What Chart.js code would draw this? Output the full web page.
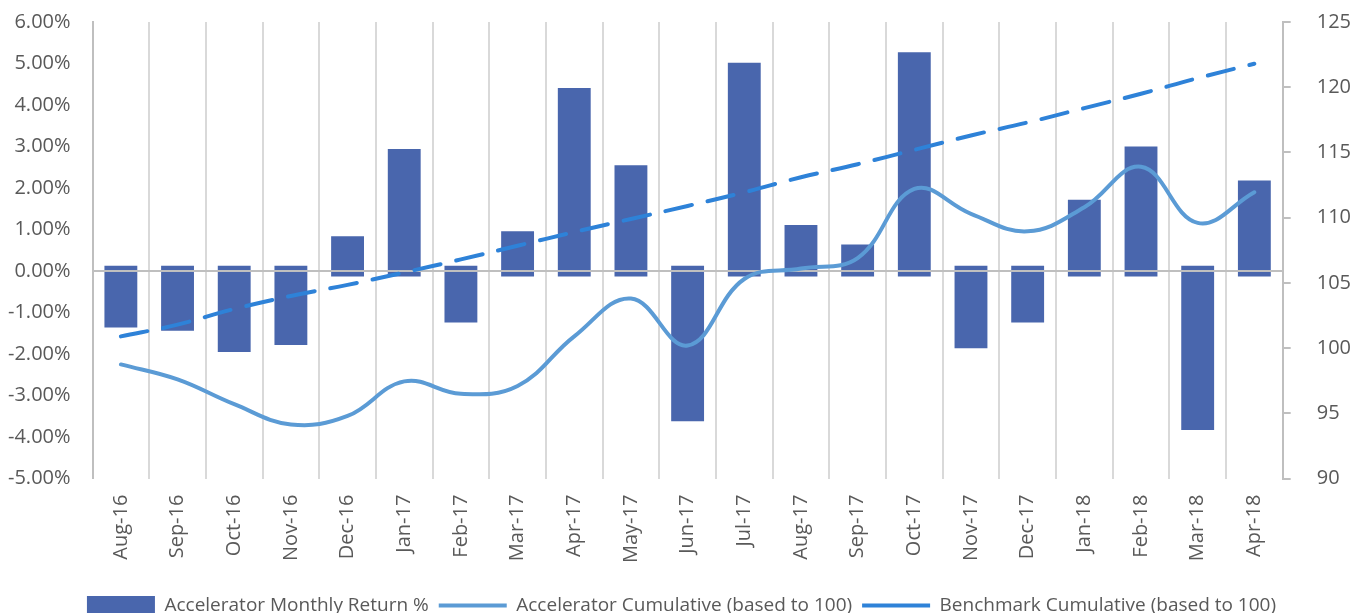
<!DOCTYPE html>
<html>
<head>
<meta charset="utf-8">
<script src="https://cdn.jsdelivr.net/npm/chart.js@4.4.1/dist/chart.umd.min.js"></script>
<style>
  html, body { margin: 0; padding: 0; background: #ffffff; overflow: hidden; }
  #wrap { width: 1354px; height: 625px; position: relative; }
</style>
</head>
<body>
<div id="wrap"><canvas id="c"></canvas></div>
<script>
const months = ['Aug-16','Sep-16','Oct-16','Nov-16','Dec-16','Jan-17','Feb-17','Mar-17','Apr-17','May-17','Jun-17','Jul-17','Aug-17','Sep-17','Oct-17','Nov-17','Dec-17','Jan-18','Feb-18','Mar-18','Apr-18'];
const monthlyReturn = [-1.36,-1.44,-1.95,-1.78,0.84,2.94,-1.24,0.96,4.41,2.55,-3.62,5.02,1.11,0.64,5.27,-1.86,-1.24,1.72,3.00,-3.83,2.18];
const acceleratorCumulative = [98.75,97.6,95.7,94.15,94.8,97.45,96.5,97.1,100.9,103.8,100.2,105.3,106.1,106.9,112.2,110.3,108.95,110.8,113.9,109.6,111.95];
const benchmarkCumulative = [100.9,101.8,103.0,104.0,104.85,105.8,106.8,107.85,108.9,109.9,110.9,111.95,113.1,114.1,115.2,116.3,117.3,118.4,119.5,120.7,121.8];
const leftTicks = { min: -5, max: 6, step: 1 };
const rightTicks = { min: 90, max: 125, step: 5 };

const BAR_OVERHANG = 0.13;
const barData = monthlyReturn.map(v => v >= 0 ? [-BAR_OVERHANG, v] : [BAR_OVERHANG, v]);

const FONT = "'Open Sans', 'Noto Sans', sans-serif";
const TXT = '#595959';
const TOP_PAD = 22;

const zeroLine = {
  id: 'zeroLine',
  afterDatasetDraw(chart, args) {
    if (args.index !== 0) return;
    const ctx = chart.ctx, a = chart.chartArea;
    const y = chart.scales.y.getPixelForValue(0);
    ctx.save();
    ctx.strokeStyle = '#bfbfbf';
    ctx.lineWidth = 2;
    ctx.beginPath();
    ctx.moveTo(a.left, y);
    ctx.lineTo(a.right, y);
    ctx.stroke();
    ctx.restore();
  }
};

new Chart(document.getElementById('c'), {
  type: 'bar',
  data: {
    labels: months,
    datasets: [
      {
        type: 'bar',
        label: 'Accelerator Monthly Return %',
        data: barData,
        backgroundColor: '#4966AD',
        borderWidth: 0,
        yAxisID: 'y',
        order: 3,
        pointStyle: 'rect',
        categoryPercentage: 1,
        barPercentage: 0.58
      },
      {
        type: 'line',
        label: 'Accelerator Cumulative (based to 100)',
        data: acceleratorCumulative,
        borderColor: '#5B9BD5',
        backgroundColor: '#5B9BD5',
        borderWidth: 4,
        tension: 0.4,
        pointRadius: 0,
        pointStyle: 'line',
        borderCapStyle: 'round',
        yAxisID: 'y2',
        order: 2
      },
      {
        type: 'line',
        label: 'Benchmark Cumulative (based to 100)',
        data: benchmarkCumulative,
        borderColor: '#2E82D8',
        backgroundColor: '#2E82D8',
        borderWidth: 4,
        borderDash: [27, 16],
        borderCapStyle: 'round',
        tension: 0.4,
        pointRadius: 0,
        pointStyle: 'line',
        yAxisID: 'y2',
        order: 1
      }
    ]
  },
  options: {
    responsive: true,
    maintainAspectRatio: false,
    animation: false,
    layout: { padding: { left: -14, right: -23, top: 0, bottom: 0 } },
    plugins: {
      tooltip: { enabled: false },
      legend: {
        position: 'bottom',
        labels: {
          usePointStyle: true,
          pointStyleWidth: 68,
          boxHeight: 19,
          color: TXT,
          font: { family: FONT, size: 19 },
          padding: 10,
          sort: (a, b) => a.datasetIndex - b.datasetIndex
        }
      }
    },
    scales: {
      x: {
        offset: true,
        afterFit: scale => { scale.height = scale.height + 7; },
        grid: { display: true, offset: true, color: '#d9d9d9', lineWidth: 2, drawTicks: false },
        border: { display: false },
        ticks: {
          color: TXT,
          font: { family: FONT, size: 20 },
          minRotation: 90,
          maxRotation: 90,
          padding: 16,
          autoSkip: false
        }
      },
      y: {
        position: 'left',
        min: leftTicks.min,
        max: leftTicks.max,
        afterFit: scale => { scale.paddingTop = TOP_PAD; },
        grid: { display: false, drawTicks: false },
        border: { display: true, color: '#bfbfbf', width: 2 },
        ticks: {
          stepSize: leftTicks.step,
          color: TXT,
          font: { family: FONT, size: 20 },
          padding: 22,
          callback: v => v.toFixed(2) + '%'
        }
      },
      y2: {
        position: 'right',
        min: rightTicks.min,
        max: rightTicks.max,
        afterFit: scale => { scale.paddingTop = TOP_PAD; },
        grid: { display: true, drawOnChartArea: false, color: '#bfbfbf', lineWidth: 2, tickLength: 8 },
        border: { display: true, color: '#bfbfbf', width: 2 },
        ticks: {
          stepSize: rightTicks.step,
          color: TXT,
          font: { family: FONT, size: 20 },
          padding: 26
        }
      }
    }
  },
  plugins: [zeroLine]
});
</script>
</body>
</html>
